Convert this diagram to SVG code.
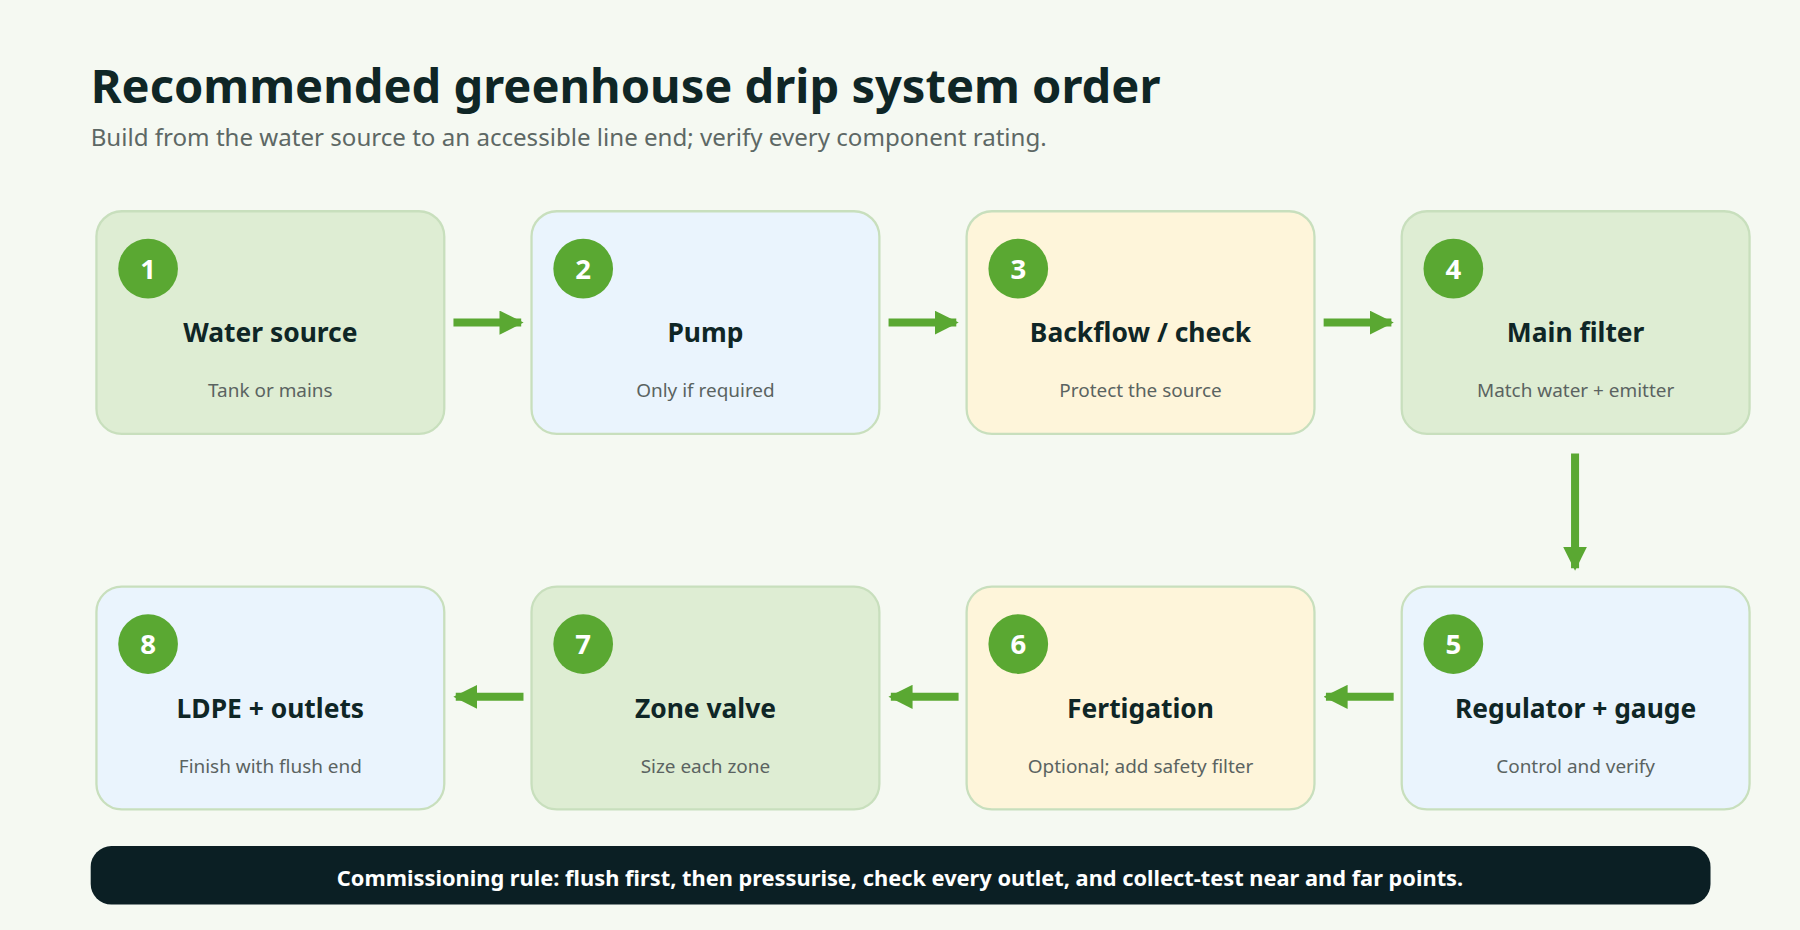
<svg xmlns="http://www.w3.org/2000/svg" width="1800" height="930" viewBox="0 0 1800 930">
<defs>
<style>
text{font-family:"Noto Sans","Liberation Sans",sans-serif}
.g{fill:#deedd3;stroke:#c8dfbd;stroke-width:2}
.b{fill:#eaf4fd;stroke:#c8dfbd;stroke-width:2}
.y{fill:#fef5da;stroke:#c8dfbd;stroke-width:2}
.c{fill:#5aa832}
.n{fill:#fff;font-size:24px;font-weight:700;text-anchor:middle}
.t{fill:#0f2626;font-size:23px;font-weight:700;text-anchor:middle}
.s{fill:#5a6361;font-size:16.5px;text-anchor:middle}
.a{stroke:#5aa832;stroke-width:7;fill:none}
</style>
<marker id="ah" viewBox="0 0 10 10" refX="9" refY="5" markerWidth="3" markerHeight="3" orient="auto" markerUnits="strokeWidth"><path d="M0,0L10,5L0,10z" fill="#5aa832"/></marker>
</defs>
<rect width="1800" height="930" fill="#f5f9f2"/>
<g transform="scale(1.148)">
<text x="79" y="90" font-size="41" font-weight="700" fill="#0f2626">Recommended greenhouse drip system order</text>
<text x="79" y="127" font-size="21" fill="#5d6865">Build from the water source to an accessible line end; verify every component rating.</text>
<g id="n1"><rect class="g" x="84" y="184" width="303" height="194" rx="22"/><circle class="c" cx="129" cy="234" r="26"/><text class="n" x="129" y="243">1</text><text class="t" x="235.5" y="298">Water source</text><text class="s" x="235.5" y="346">Tank or mains</text></g>
<g id="n2"><rect class="b" x="463" y="184" width="303" height="194" rx="22"/><circle class="c" cx="508" cy="234" r="26"/><text class="n" x="508" y="243">2</text><text class="t" x="614.5" y="298">Pump</text><text class="s" x="614.5" y="346">Only if required</text></g>
<g id="n3"><rect class="y" x="842" y="184" width="303" height="194" rx="22"/><circle class="c" cx="887" cy="234" r="26"/><text class="n" x="887" y="243">3</text><text class="t" x="993.5" y="298">Backflow / check</text><text class="s" x="993.5" y="346">Protect the source</text></g>
<g id="n4"><rect class="g" x="1221" y="184" width="303" height="194" rx="22"/><circle class="c" cx="1266" cy="234" r="26"/><text class="n" x="1266" y="243">4</text><text class="t" x="1372.5" y="298">Main filter</text><text class="s" x="1372.5" y="346">Match water + emitter</text></g>
<g id="n5"><rect class="b" x="1221" y="511" width="303" height="194" rx="22"/><circle class="c" cx="1266" cy="561" r="26"/><text class="n" x="1266" y="570">5</text><text class="t" x="1372.5" y="625">Regulator + gauge</text><text class="s" x="1372.5" y="673">Control and verify</text></g>
<g id="n6"><rect class="y" x="842" y="511" width="303" height="194" rx="22"/><circle class="c" cx="887" cy="561" r="26"/><text class="n" x="887" y="570">6</text><text class="t" x="993.5" y="625">Fertigation</text><text class="s" x="993.5" y="673">Optional; add safety filter</text></g>
<g id="n7"><rect class="g" x="463" y="511" width="303" height="194" rx="22"/><circle class="c" cx="508" cy="561" r="26"/><text class="n" x="508" y="570">7</text><text class="t" x="614.5" y="625">Zone valve</text><text class="s" x="614.5" y="673">Size each zone</text></g>
<g id="n8"><rect class="b" x="84" y="511" width="303" height="194" rx="22"/><circle class="c" cx="129" cy="561" r="26"/><text class="n" x="129" y="570">8</text><text class="t" x="235.5" y="625">LDPE + outlets</text><text class="s" x="235.5" y="673">Finish with flush end</text></g>
<g id="connectors">
<path class="a" d="M395,281H454" marker-end="url(#ah)"/>
<path class="a" d="M774,281H833" marker-end="url(#ah)"/>
<path class="a" d="M1153,281H1212" marker-end="url(#ah)"/>
<path class="a" d="M1372,395V495" marker-end="url(#ah)"/>
<path class="a" d="M1214,607H1155" marker-end="url(#ah)"/>
<path class="a" d="M835,607H776" marker-end="url(#ah)"/>
<path class="a" d="M456,607H397" marker-end="url(#ah)"/>
</g>
<g id="footer"><rect x="79" y="737" width="1411" height="51" rx="18" fill="#0b1f24"/><text x="784" y="772" text-anchor="middle" font-size="19" font-weight="700" fill="#fff">Commissioning rule: flush first, then pressurise, check every outlet, and collect-test near and far points.</text></g>
</g>
</svg>
